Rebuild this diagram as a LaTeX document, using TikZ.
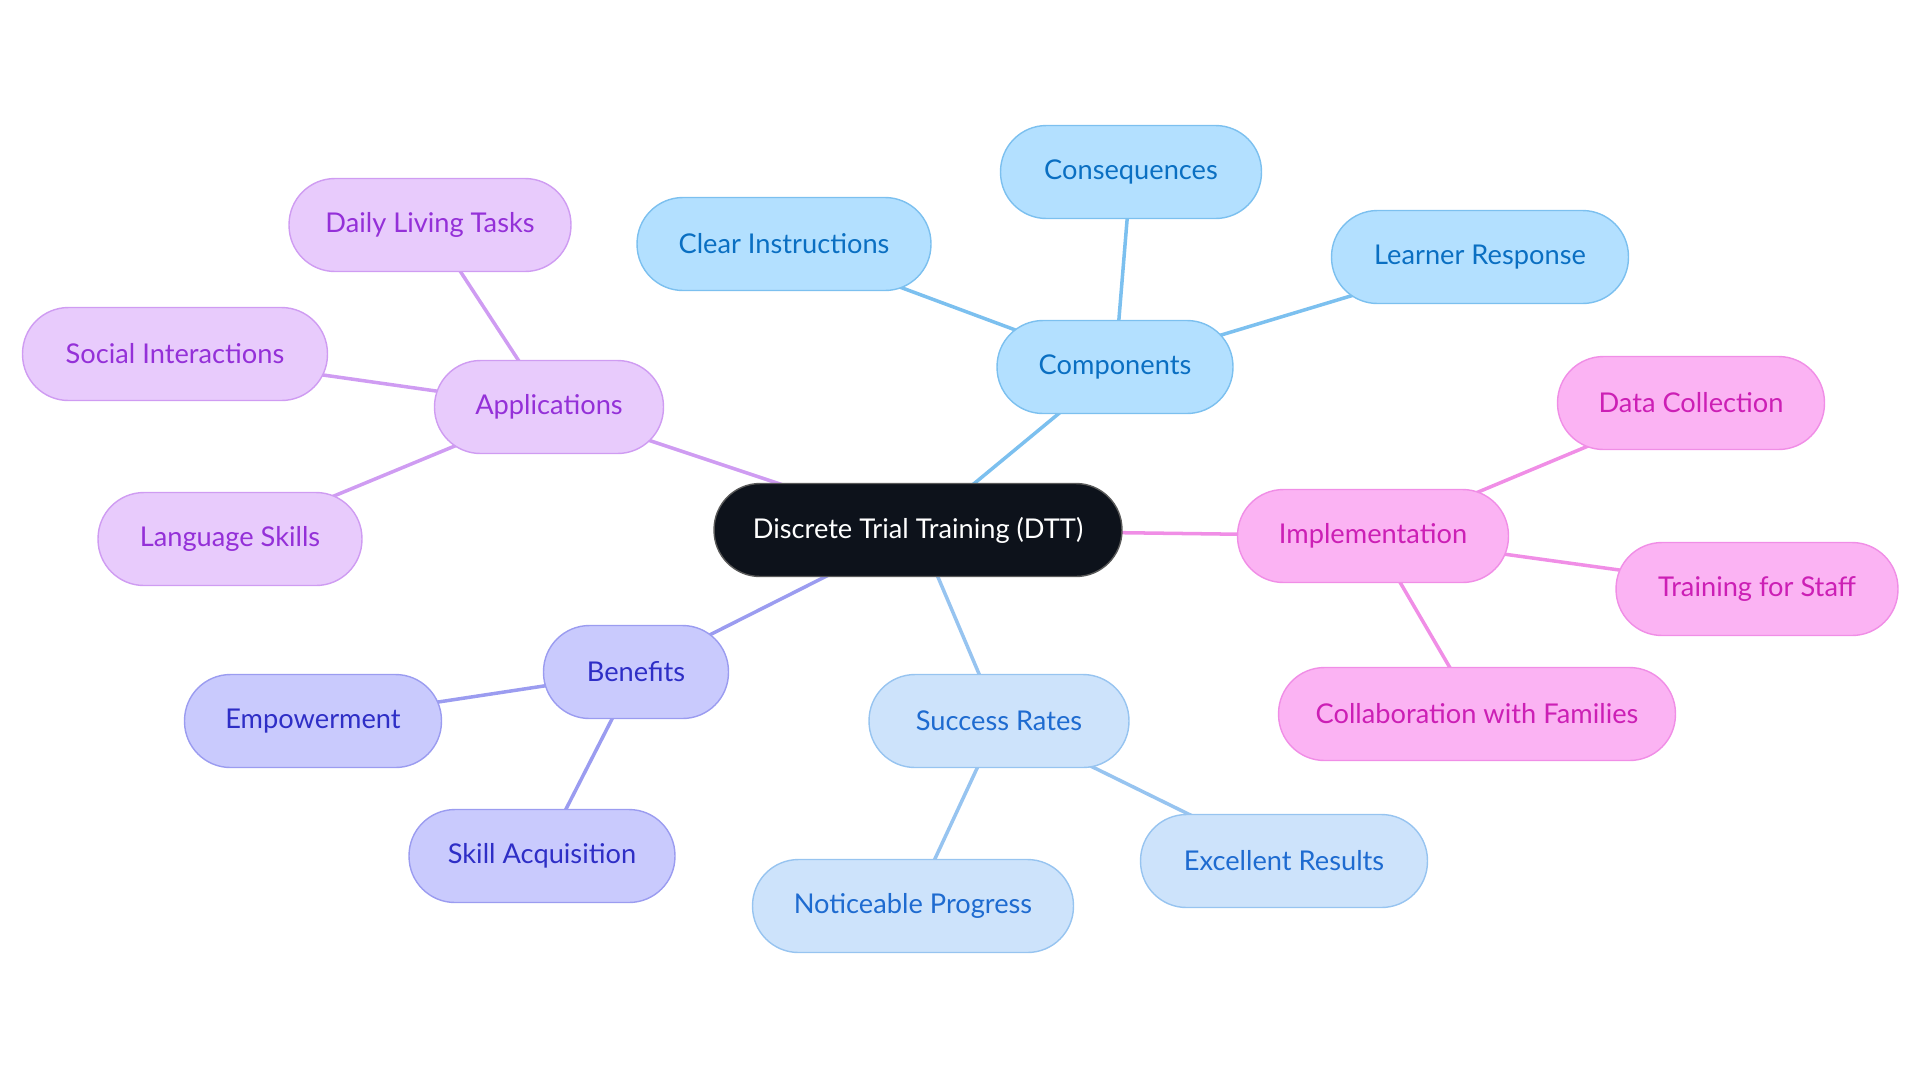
\documentclass[tikz,border=0pt]{standalone}
\usepackage{fontspec}
\setmainfont{Lato}
\usetikzlibrary{positioning,backgrounds}
\usepackage{xcolor}

\definecolor{rootfill}{HTML}{0D121B}
\definecolor{compfill}{HTML}{B3E0FF}\definecolor{compline}{HTML}{7CC0EF}\definecolor{comptext}{HTML}{0A6FC2}
\definecolor{implfill}{HTML}{FBB3F3}\definecolor{implline}{HTML}{F08EE6}\definecolor{impltext}{HTML}{CC1FB5}
\definecolor{applfill}{HTML}{E8CBFC}\definecolor{applline}{HTML}{CF9CF2}\definecolor{appltext}{HTML}{9430D8}
\definecolor{benefill}{HTML}{C9CAFD}\definecolor{beneline}{HTML}{9B9CF0}\definecolor{benetext}{HTML}{2E2EC6}
\definecolor{succfill}{HTML}{CDE3FB}\definecolor{succline}{HTML}{97C4F0}\definecolor{succtext}{HTML}{1E6BD0}

\begin{document}
\begin{tikzpicture}[
        x=0.02cm, y=-0.02cm,
        every node/.style={font=\fontsize{15.5}{18}\selectfont},
        pill/.style={draw, rounded corners=0.92cm, minimum height=1.86cm, line width=0.8pt, inner sep=0pt},
        rootnode/.style={pill, fill=rootfill, draw=gray!70!black, text=white},
        compnode/.style={pill, fill=compfill, draw=compline, text=comptext},
        implnode/.style={pill, fill=implfill, draw=implline, text=impltext},
        applnode/.style={pill, fill=applfill, draw=applline, text=appltext},
        benenode/.style={pill, fill=benefill, draw=beneline, text=benetext},
        succnode/.style={pill, fill=succfill, draw=succline, text=succtext},
        link/.style={line width=2pt}
    ]
        \useasboundingbox (0,0) rectangle (1920,1083);

        % Root
        \node[rootnode, minimum width=8.16cm] (dtt) at (918,530) {Discrete Trial Training (DTT)};

        % Components branch
        \node[compnode, minimum width=4.72cm] (comp) at (1115,367) {Components};
        \node[compnode, minimum width=5.88cm] (instr) at (784,244) {Clear Instructions};
        \node[compnode, minimum width=5.22cm] (conseq) at (1131,172) {Consequences};
        \node[compnode, minimum width=5.94cm] (resp) at (1480,257) {Learner Response};

        % Implementation branch
        \node[implnode, minimum width=5.42cm] (impl) at (1373,536) {Implementation};
        \node[implnode, minimum width=5.34cm] (data) at (1691,403) {Data Collection};
        \node[implnode, minimum width=5.64cm] (staff) at (1757,589) {Training for Staff};
        \node[implnode, minimum width=7.94cm] (fam) at (1477,714) {Collaboration with Families};

        % Success Rates branch
        \node[succnode, minimum width=5.20cm] (succ) at (999,721) {Success Rates};
        \node[succnode, minimum width=5.74cm] (excel) at (1284,861) {Excellent Results};
        \node[succnode, minimum width=6.42cm] (prog) at (913,906) {Noticeable Progress};

        % Benefits branch
        \node[benenode, minimum width=3.70cm] (bene) at (636,672) {Benefits};
        \node[benenode, minimum width=5.14cm] (empow) at (313,721) {Empowerment};
        \node[benenode, minimum width=5.32cm] (skill) at (542,856) {Skill Acquisition};

        % Applications branch
        \node[applnode, minimum width=4.58cm] (appl) at (549,407) {Applications};
        \node[applnode, minimum width=5.64cm] (daily) at (430,225) {Daily Living Tasks};
        \node[applnode, minimum width=6.10cm] (social) at (175,354) {Social Interactions};
        \node[applnode, minimum width=5.28cm] (lang) at (230,539) {Language Skills};

        % Links behind the nodes, centre to centre
        \begin{pgfonlayer}{background}
            \draw[link, compline] (dtt.center) -- (comp.center);
            \draw[link, compline] (comp.center) -- (instr.center);
            \draw[link, compline] (comp.center) -- (conseq.center);
            \draw[link, compline] (comp.center) -- (resp.center);
            \draw[link, implline] (dtt.center) -- (impl.center);
            \draw[link, implline] (impl.center) -- (data.center);
            \draw[link, implline] (impl.center) -- (staff.center);
            \draw[link, implline] (impl.center) -- (fam.center);
            \draw[link, succline] (dtt.center) -- (succ.center);
            \draw[link, succline] (succ.center) -- (excel.center);
            \draw[link, succline] (succ.center) -- (prog.center);
            \draw[link, beneline] (dtt.center) -- (bene.center);
            \draw[link, beneline] (bene.center) -- (empow.center);
            \draw[link, beneline] (bene.center) -- (skill.center);
            \draw[link, applline] (dtt.center) -- (appl.center);
            \draw[link, applline] (appl.center) -- (daily.center);
            \draw[link, applline] (appl.center) -- (social.center);
            \draw[link, applline] (appl.center) -- (lang.center);
        \end{pgfonlayer}
    \end{tikzpicture}
\end{document}
